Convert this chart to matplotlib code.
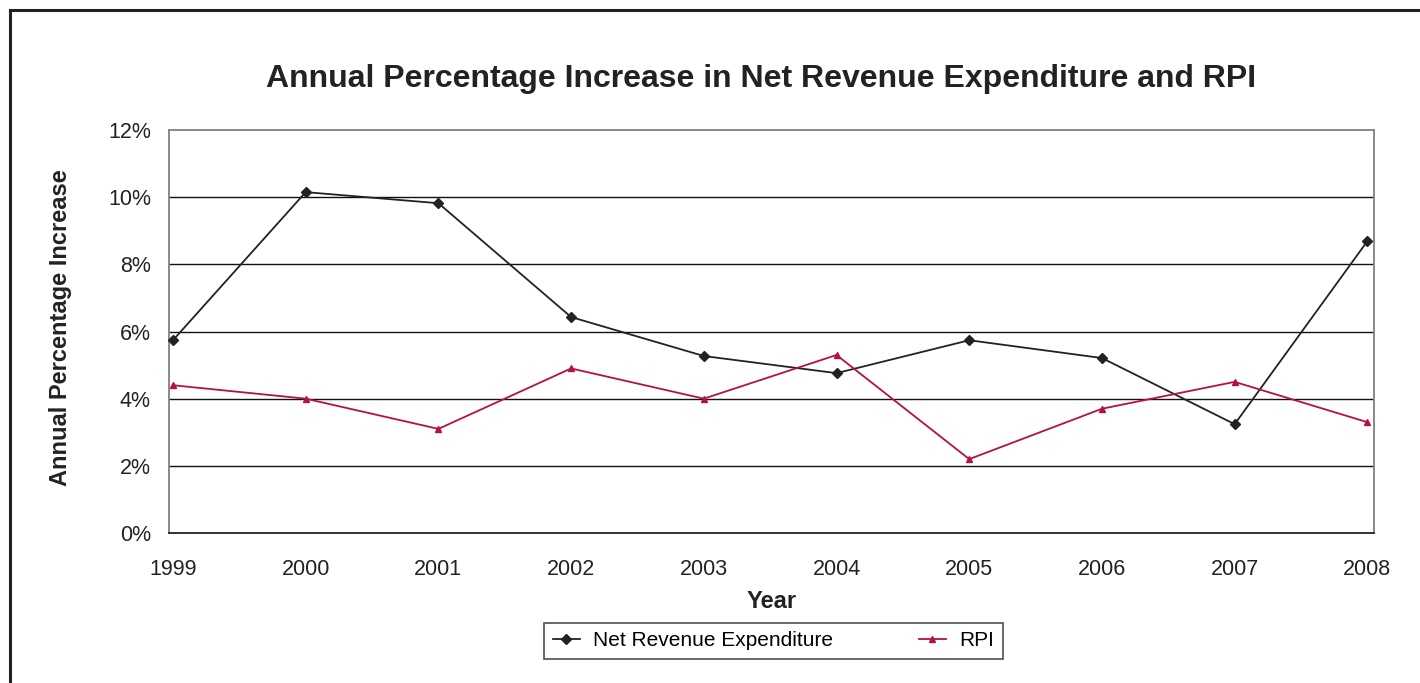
import matplotlib
matplotlib.use("Agg")
import matplotlib.pyplot as plt
from matplotlib.lines import Line2D
from matplotlib.ticker import FuncFormatter

plt.rcParams['font.family'] = ['Liberation Sans', 'DejaVu Sans']

years = [1999, 2000, 2001, 2002, 2003, 2004, 2005, 2006, 2007, 2008]
net_revenue = [5.74, 10.15, 9.82, 6.43, 5.27, 4.76, 5.74, 5.21, 3.24, 8.69]
rpi = [4.4, 4.0, 3.1, 4.9, 4.0, 5.3, 2.2, 3.7, 4.5, 3.3]
y_ticks = [0, 2, 4, 6, 8, 10, 12]

W, H = 1420, 683
fig = plt.figure(figsize=(W / 100, H / 100), dpi=100)
fig.patch.set_facecolor('white')

# outer frame (top and left visible)
fig.add_artist(Line2D([10 / W, 10 / W], [0, 1 - 10 / H], transform=fig.transFigure,
                      color='#222222', lw=2.2))
fig.add_artist(Line2D([10 / W, 1], [1 - 10 / H, 1 - 10 / H], transform=fig.transFigure,
                      color='#222222', lw=2.2))

ax = fig.add_axes([169 / W, (H - 533) / H, (1374 - 169) / W, (533 - 130) / H])
ax.set_xlim(1998.97, 2008.05)
ax.set_ylim(0, 12)
ax.set_yticks(y_ticks)
ax.yaxis.set_major_formatter(FuncFormatter(lambda v, p: f"{int(v)}%"))
ax.set_xticks(years)
ax.set_xticklabels([str(y) for y in years])
ax.tick_params(axis='both', length=0, labelsize=15.5, colors='#222222')
ax.tick_params(axis='y', pad=13)
ax.tick_params(axis='x', pad=19)

for v in y_ticks[1:-1]:
    ax.axhline(v, color='#111111', lw=1.0, zorder=1)

for s in ['left', 'top', 'right']:
    ax.spines[s].set_color('#808080')
    ax.spines[s].set_linewidth(1.3)
ax.spines['bottom'].set_color('#222222')
ax.spines['bottom'].set_linewidth(1.3)

ax.plot(years, net_revenue, color='#222222', lw=1.3, marker='D', markersize=5,
        label='Net Revenue Expenditure', zorder=3, clip_on=False)
ax.plot(years, rpi, color='#b5123e', lw=1.3, marker='^', markersize=5,
        label='RPI', zorder=3, clip_on=False)

fig.text(761 / W, 1 - 79 / H, 'Annual Percentage Increase in Net Revenue Expenditure and RPI',
         ha='center', va='center', fontsize=23, fontweight='bold', color='#222222')
ax.set_xlabel('Year', fontsize=17, fontweight='bold', color='#222222', labelpad=7)
fig.text(61 / W, 1 - 328 / H, 'Annual Percentage Increase', rotation=90,
         ha='center', va='center', fontsize=17, fontweight='bold', color='#222222')

leg = fig.legend(loc='center', bbox_to_anchor=(773.5 / W, 1 - 641 / H), ncol=2,
                 fontsize=15, frameon=True, fancybox=False, edgecolor='#222222',
                 handlelength=1.3, handletextpad=0.65, columnspacing=4.1,
                 borderpad=0.4, borderaxespad=0)
leg.get_frame().set_linewidth(1.2)

fig.savefig('out.png', dpi=100, facecolor='white')
